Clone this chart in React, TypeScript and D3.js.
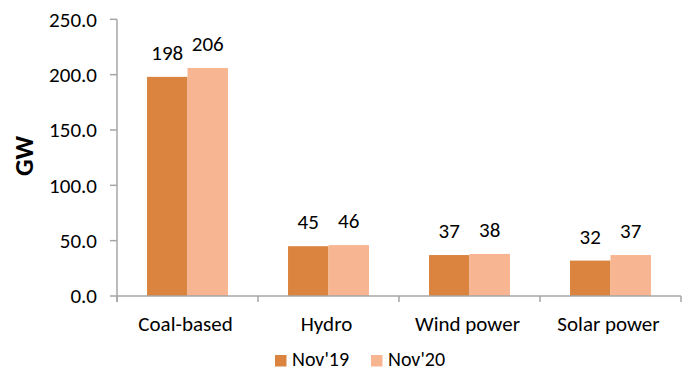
import React from "react";
import * as d3 from "d3";

const categories = ["Coal-based", "Hydro", "Wind power", "Solar power"];
const seriesNames = ["Nov'19", "Nov'20"];
const nov19 = [198, 45, 37, 32];
const nov20 = [206, 46, 38, 37];
const yTicks = [0, 50, 100, 150, 200, 250];

const WIDTH = 691;
const HEIGHT = 371;
const COLORS = ["#DA843F", "#F8B591"];
const AXIS = "#A6A6A6";
const FONT = "Carlito, Calibri, Lato, sans-serif";

export default function App() {
  const left = 117;
  const right = 681;
  const top = 19.3;
  const bottom = 296;

  const x = d3.scaleBand<string>().domain(categories).range([left, right]).paddingInner(0).paddingOuter(0);
  // the bar pair fills ~57% of each category slot
  const groupW = x.bandwidth() * 0.574;
  const barW = groupW / 2;
  const offset = (x.bandwidth() - groupW) / 2;

  const y = d3.scaleLinear().domain([0, 250]).range([bottom, top]);
  const series = [nov19, nov20];
  const fmt = d3.format(".1f");

  const boundaries = [...categories.map((c) => x(c) as number), right];

  return (
    <svg
      width={WIDTH}
      height={HEIGHT}
      style={{ position: "absolute", left: 0, top: 0, background: "#fff" }}
      fontFamily={FONT}
    >
      <rect width={WIDTH} height={HEIGHT} fill="#fff" />

      {/* bars */}
      {categories.map((c, ci) =>
        series.map((vals, si) => {
          const bx = (x(c) as number) + offset + si * barW;
          return (
            <g key={c + si}>
              <rect
                x={bx}
                y={y(vals[ci])}
                width={barW}
                height={bottom - y(vals[ci])}
                fill={COLORS[si]}
              />
              <text
                x={bx + barW / 2}
                y={y(vals[ci]) - 17}
                textAnchor="middle"
                fontSize={21}
                fill="#000"
              >
                {vals[ci]}
              </text>
            </g>
          );
        })
      )}

      {/* y axis */}
      <line x1={left} x2={left} y1={top} y2={bottom + 6} stroke={AXIS} strokeWidth={1.5} />
      {yTicks.map((t) => (
        <g key={t}>
          <line x1={left - 7} x2={left} y1={y(t)} y2={y(t)} stroke={AXIS} strokeWidth={1.5} />
          <text x={97} y={y(t)} dy="0.35em" textAnchor="end" fontSize={21} fill="#000">
            {fmt(t)}
          </text>
        </g>
      ))}

      {/* x axis */}
      <line x1={left} x2={right} y1={bottom} y2={bottom} stroke={AXIS} strokeWidth={1.5} />
      {boundaries.map((b, i) => (
        <line key={i} x1={b} x2={b} y1={bottom} y2={bottom + 6} stroke={AXIS} strokeWidth={1.5} />
      ))}
      {categories.map((c) => (
        <text
          key={c}
          x={(x(c) as number) + x.bandwidth() / 2 - 2}
          y={331}
          textAnchor="middle"
          fontSize={21}
          fill="#000"
        >
          {c}
        </text>
      ))}

      {/* axis title */}
      <text
        transform={`translate(33,156) rotate(-90)`}
        textAnchor="middle"
        fontSize={26}
        fontWeight="bold"
        fill="#000"
      >
        GW
      </text>

      {/* legend */}
      {seriesNames.map((s, i) => {
        const lx = 275 + i * 96;
        return (
          <g key={s}>
            <rect x={lx} y={355} width={11.5} height={11.5} fill={COLORS[i]} />
            <text x={lx + 17} y={366} fontSize={20} fill="#000">
              {s}
            </text>
          </g>
        );
      })}
    </svg>
  );
}
